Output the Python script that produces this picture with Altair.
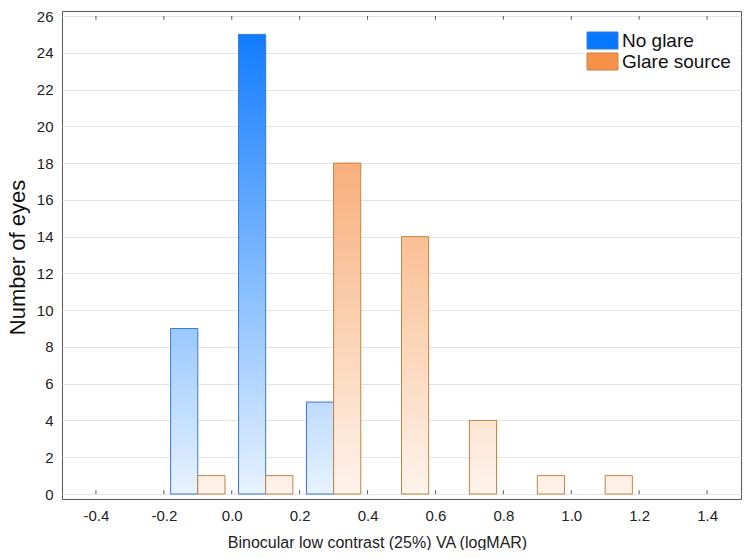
import altair as alt
import pandas as pd

# ---- data ----
bin_centers = [-0.1, 0.1, 0.3, 0.5, 0.7, 0.9, 1.1]
no_glare = [9, 25, 5, 0, 0, 0, 0]
glare_source = [1, 1, 18, 14, 4, 1, 1]
series_names = ["No glare", "Glare source"]
x_tick_values = [-0.4, -0.2, 0.0, 0.2, 0.4, 0.6, 0.8, 1.0, 1.2, 1.4]
y_tick_values = [0, 2, 4, 6, 8, 10, 12, 14, 16, 18, 20, 22, 24, 26]

# ---- styling ----
FONT = "Liberation Sans"
BAR_W = 0.08
Y_MAX = 26
blue_full, blue_light, blue_edge = "#0877ff", "#e8f3ff", "#3b78d4"
orange_full, orange_light, orange_edge = "#f6914a", "#fef4eb", "#c9823f"


def mix(c0, c1, t):
    a = [int(c0[i:i + 2], 16) for i in (1, 3, 5)]
    b = [int(c1[i:i + 2], 16) for i in (1, 3, 5)]
    return "#%02x%02x%02x" % tuple(round(p + (q - p) * t) for p, q in zip(a, b))


rows = []
for c, v in zip(bin_centers, no_glare):
    rows.append({"series": series_names[0], "center": c, "count": v,
                 "lo": round(c - BAR_W, 3), "hi": c})
for c, v in zip(bin_centers, glare_source):
    rows.append({"series": series_names[1], "center": c, "count": v,
                 "lo": c, "hi": round(c + BAR_W, 3)})
df = pd.DataFrame(rows)
df["id"] = range(len(df))

xscale = alt.Scale(domain=[-0.5, 1.5], nice=False, zero=False)
yscale = alt.Scale(domain=[0, Y_MAX], nice=False)

xaxis = alt.Axis(
    values=x_tick_values, grid=False, ticks=False, domain=False,
    labelOverlap=False,
    labelExpr="datum.value < 0 ? '-' + format(-datum.value, '.1f') : format(datum.value, '.1f')",
    labelFontSize=15, labelColor="#222222", labelPadding=9, labelFont=FONT,
    title="Binocular low contrast (25%) VA (logMAR)", titleFontSize=16,
    titleFontWeight="normal", titleColor="#222222", titleFont=FONT,
    titleX=315, titleY=43, titleAlign="center", titleBaseline="middle",
)
yaxis = alt.Axis(
    values=y_tick_values, grid=True, gridColor="#e3e3e3", gridWidth=1,
    ticks=False, domain=False, labelOverlap=False, labelFontSize=15,
    labelColor="#222222", labelPadding=9, labelFont=FONT,
    title="Number of eyes", titleFontSize=22, titleFontWeight="normal",
    titleColor="#111111", titleFont=FONT, titleX=-45, titleY=246,
    titleBaseline="middle", titleAlign="center",
)

X = lambda f: alt.X(f, type="quantitative", scale=xscale, axis=xaxis)
Y = lambda f: alt.Y(f, type="quantitative", scale=yscale, axis=yaxis)

layers = []
for r in df.itertuples():
    if r.count <= 0:
        continue
    if r.series == series_names[0]:
        full, light, edge = blue_full, blue_light, blue_edge
    else:
        full, light, edge = orange_full, orange_light, orange_edge
    top = mix(light, full, r.count / Y_MAX)
    grad = alt.Gradient(
        gradient="linear",
        stops=[alt.GradientStop(color=top, offset=0),
               alt.GradientStop(color=light, offset=1)],
        x1=0, x2=0, y1=0, y2=1,
    )
    layers.append(
        alt.Chart(df).transform_filter(f"datum.id == {r.id}")
        .mark_bar(fill=grad, stroke=edge, strokeWidth=1)
        .encode(x=X("lo"), x2="hi", y=Y("count"), y2=alt.datum(0))
    )

# legend-only layer (no marks drawn, explicit domain keeps the entries)
leg = alt.Legend(
    title=None, orient="none", legendX=521, legendY=10, padding=10,
    fillColor="white", labelFontSize=19, labelFont=FONT, labelColor="#111111",
    symbolType="M-1.82,-1H1.82V1H-1.82Z", symbolSize=289, symbolStrokeWidth=1,
    symbolOpacity=1, labelOffset=10, rowPadding=0,
)
legend_layer = (
    alt.Chart(df).transform_filter("false").mark_bar()
    .encode(
        x=X("lo"), x2="hi", y=Y("count"),
        color=alt.Color("series:N", scale=alt.Scale(domain=series_names,
                        range=[blue_full, orange_full]), legend=leg),
        stroke=alt.Stroke("series:N", scale=alt.Scale(domain=series_names,
                          range=[blue_edge, orange_edge]), legend=leg),
    )
)

ticks_df = pd.DataFrame({"t": x_tick_values})
bottom_ticks = alt.Chart(ticks_df).mark_rule(color="#555555").encode(
    x=X("t"),
    y=alt.YDatum(0, type="quantitative", scale=yscale, axis=yaxis),
    y2=alt.datum(0.2))
top_ticks = alt.Chart(ticks_df).mark_rule(color="#555555").encode(
    x=X("t"),
    y=alt.YDatum(Y_MAX, type="quantitative", scale=yscale, axis=yaxis),
    y2=alt.datum(Y_MAX - 0.2))

chart = (
    alt.layer(*layers, bottom_ticks, top_ticks, legend_layer)
    .properties(width=679, height=488,
                padding={"left": 54, "top": 3, "right": 1, "bottom": 51})
    .configure(autosize=alt.AutoSizeParams(type="none"))
    .configure_view(stroke="#5a5a5a", strokeWidth=1)
    .configure_axis(labelFont=FONT, titleFont=FONT, labelOverlap=False)
    .configure_legend(labelFont=FONT)
)

chart.save("out.html", embed_options={"renderer": "svg", "actions": False})
